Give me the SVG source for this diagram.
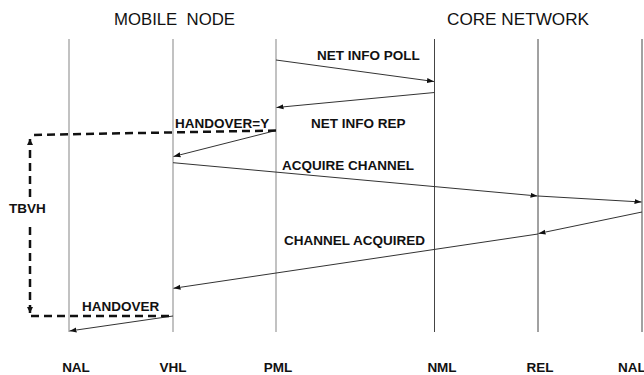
<svg xmlns="http://www.w3.org/2000/svg" width="644" height="375" viewBox="0 0 644 375">
<style>
.title{font-family:"Liberation Sans",Arial,sans-serif;font-size:16px;fill:#111}
.lbl{font-family:"Liberation Sans",Arial,sans-serif;font-size:13.5px;font-weight:bold;fill:#111}
.ll-m{stroke:#999;stroke-width:1.2;fill:none}
.ll-c{stroke:#444;stroke-width:1;fill:none}
.msg{stroke:#333;stroke-width:1;fill:none;marker-end:url(#ah)}
.dash{stroke:#111;stroke-width:2.5;fill:none;stroke-dasharray:8,5}
</style>
<defs>
<marker id="ah" markerUnits="userSpaceOnUse" markerWidth="8" markerHeight="6" refX="7" refY="3" orient="auto">
<path d="M0,0.5 L7,3 L0,5.5 z" fill="#111"/>
</marker>
<marker id="dh" markerUnits="userSpaceOnUse" markerWidth="8" markerHeight="8" refX="6" refY="4" orient="auto">
<path d="M0,1 L6,4 L0,7 z" fill="#111"/>
</marker>
</defs>
<rect width="644" height="375" fill="#fff"/>
<g id="titles">
<text class="title" x="114" y="25" textLength="121" lengthAdjust="spacingAndGlyphs" xml:space="preserve">MOBILE  NODE</text>
<text class="title" x="447" y="25" textLength="142" lengthAdjust="spacingAndGlyphs">CORE NETWORK</text>
</g>
<g id="NAL"><line class="ll-m" x1="69" y1="39" x2="69" y2="332"/><text class="lbl" x="76" y="372" text-anchor="middle">NAL</text></g>
<g id="VHL"><line class="ll-m" x1="173" y1="39" x2="173" y2="332"/><text class="lbl" x="173" y="372" text-anchor="middle">VHL</text></g>
<g id="PML"><line class="ll-m" x1="276" y1="39" x2="276" y2="332"/><text class="lbl" x="278" y="372" text-anchor="middle">PML</text></g>
<g id="NML"><line class="ll-c" x1="434.5" y1="39" x2="434.5" y2="332"/><text class="lbl" x="442" y="372" text-anchor="middle">NML</text></g>
<g id="REL"><line class="ll-c" x1="538" y1="39" x2="538" y2="332"/><text class="lbl" x="540" y="372" text-anchor="middle">REL</text></g>
<g id="NAL2"><line class="ll-c" x1="642" y1="39" x2="642" y2="332"/><text class="lbl" x="618" y="372">NAL</text></g>
<g id="connectors">
<line class="msg" x1="276" y1="60" x2="434" y2="81.5"/>
<line class="msg" x1="434.5" y1="92.5" x2="276.5" y2="107.5"/>
<line class="msg" x1="276" y1="130.5" x2="173.5" y2="156.5"/>
<line class="msg" x1="173" y1="162.7" x2="537.5" y2="196"/>
<line class="msg" x1="538" y1="196" x2="641.5" y2="202"/>
<line class="msg" x1="642" y1="212" x2="538.5" y2="233.5"/>
<line class="msg" x1="538" y1="234" x2="173.5" y2="288.3"/>
<line class="msg" x1="173" y1="316" x2="69.5" y2="331"/>
<polyline class="dash" points="276,130.5 30,135"/>
<line class="dash" x1="30" y1="197" x2="30" y2="139" marker-end="url(#dh)"/>
<line class="dash" x1="30" y1="227" x2="30" y2="313" marker-end="url(#dh)"/>
<line class="dash" x1="31" y1="316" x2="173" y2="316"/>
</g>
<g id="labels">
<text class="lbl" x="317" y="60">NET INFO POLL</text>
<text class="lbl" x="311" y="128">NET INFO REP</text>
<text class="lbl" x="175" y="128">HANDOVER=Y</text>
<text class="lbl" x="282" y="170">ACQUIRE CHANNEL</text>
<text class="lbl" x="284" y="245">CHANNEL ACQUIRED</text>
<text class="lbl" x="9" y="213">TBVH</text>
<text class="lbl" x="82" y="311">HANDOVER</text>
</g>
</svg>
